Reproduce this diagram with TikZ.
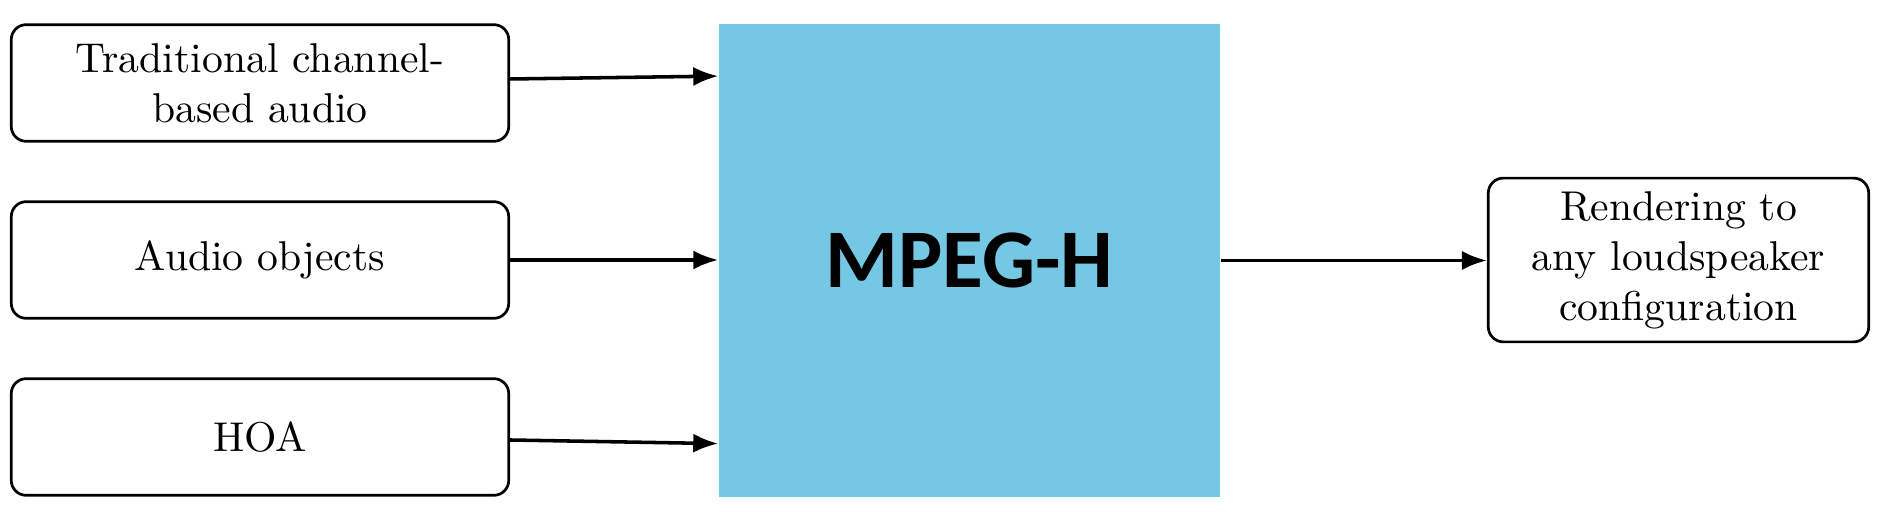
\documentclass[tikz,border=0pt]{standalone}
\usepackage{fontspec}
\newfontfamily\carlitofont{Carlito}
\usetikzlibrary{arrows.meta,calc}
\definecolor{mpegblue}{RGB}{116,200,227}
\begin{document}
\begin{tikzpicture}[x=0.24pt,y=-0.24pt,
  inbox/.style={draw, line width=0.65pt, rounded corners=3.6pt, minimum width=119.4pt, minimum height=28pt, inner sep=0pt, align=center, font=\normalsize},
  outbox/.style={draw, line width=0.65pt, rounded corners=3.6pt, minimum width=91.3pt, minimum height=39.3pt, inner sep=0pt, align=center, font=\normalsize},
  core/.style={fill=mpegblue, draw=none, minimum width=120.2pt, minimum height=113.5pt, inner sep=0pt, font=\carlitofont\bfseries\fontsize{20}{24}\selectfont},
  flow/.style={line width=0.85pt, -{Latex[length=6pt,width=4.6pt]}}
]
\useasboundingbox (0,0) rectangle (1888,512);
\node[inbox] (t) at (260,83) {Traditional channel-\\based audio};
\node[inbox] (a) at (260,260) {Audio objects};
\node[inbox] (h) at (260,437) {HOA};
\node[core] (m) at (969.5,260.5) {MPEG-H};
\node[outbox] (r) at (1678.5,260) {Rendering to\\any loudspeaker\\configuration};
\draw[flow] ([yshift=0.96pt]t.east) -- ([yshift=-12.7pt]m.north west);
\draw[flow] (a.east) -- (a.east -| m.west);
\draw[flow] ([yshift=-0.72pt]h.east) -- ([yshift=13pt]m.south west);
\draw[flow] (m.east) -- (m.east -| r.west);
\end{tikzpicture}
\end{document}
